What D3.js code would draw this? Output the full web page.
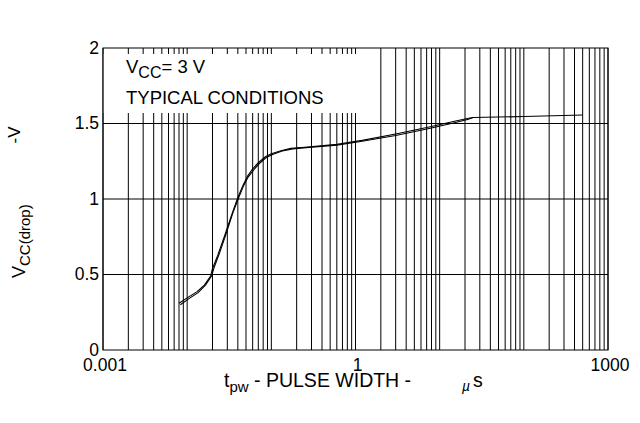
<!DOCTYPE html>
<html>
<head>
<meta charset="utf-8">
<script src="https://cdn.jsdelivr.net/npm/d3@7/dist/d3.min.js"></script>
<style>
  body { margin: 0; background: #fff; }
  svg { display: block; }
  text { font-family: "Liberation Sans", Arial, Helvetica, sans-serif; fill: #000; }
</style>
</head>
<body>
<svg id="chart" width="640" height="423"></svg>
<script>
// Axis ticks
const xTickValues = [0.001, 1, 1000];
const xTickLabels = ["0.001", "1", "1000"];
const yTickValues = [0, 0.5, 1, 1.5, 2];
const yTickLabels = ["0", "0.5", "1", "1.5", "2"];

// VCC(drop) vs pulse width, two traces of the same measurement
const pulseWidthA = [0.0080, 0.0100, 0.0130, 0.0160, 0.0190, 0.0200, 0.0230, 0.0280, 0.0340, 0.0400,
                     0.0460, 0.0520, 0.0600, 0.0700, 0.0850, 0.1000, 0.1300, 0.1700, 0.2500, 0.6000,
                     1.2000, 3.0000, 8.0000, 15.000, 22.000, 25.000, 100.00, 500.00];
const dropA       = [0.310, 0.345, 0.385, 0.430, 0.490, 0.540, 0.625, 0.760, 0.900, 1.010,
                     1.090, 1.150, 1.200, 1.240, 1.280, 1.300, 1.320, 1.335, 1.343, 1.362,
                     1.388, 1.430, 1.480, 1.515, 1.535, 1.540, 1.546, 1.556];
const pulseWidthB = [0.0083, 0.0105, 0.0135, 0.0165, 0.0195, 0.0210, 0.0240, 0.0290, 0.0350, 0.0410,
                     0.0470, 0.0530, 0.0620, 0.0720, 0.0870, 0.1050, 0.1350, 0.1800, 0.2600, 0.6000,
                     1.2000, 3.0000, 8.0000, 15.000, 22.000, 25.000];
const dropB       = [0.300, 0.340, 0.380, 0.430, 0.490, 0.550, 0.635, 0.770, 0.910, 1.010,
                     1.090, 1.145, 1.195, 1.235, 1.275, 1.297, 1.318, 1.332, 1.340, 1.357,
                     1.382, 1.420, 1.470, 1.505, 1.528, 1.540];

const svg = d3.select("#chart");
const plotLeft = 103, plotRight = 608, plotTop = 48, plotBottom = 350;

const x = d3.scaleLog().domain([0.001, 1000]).range([plotLeft, plotRight]);
const y = d3.scaleLinear().domain([0, 2]).range([plotBottom, plotTop]);

// Log grid: 1..9 within each decade
const gridX = [];
for (let e = -3; e < 3; e++) {
  for (let m = 1; m <= 9; m++) gridX.push(m * Math.pow(10, e));
}
gridX.push(1000);

const grid = svg.append("g").attr("stroke", "#000").attr("stroke-width", 1);
grid.selectAll("line.v").data(gridX).join("line")
  .attr("class", "v")
  .attr("x1", d => x(d)).attr("x2", d => x(d))
  .attr("y1", plotTop).attr("y2", plotBottom);
grid.selectAll("line.h").data(yTickValues.slice(1, -1)).join("line")
  .attr("class", "h")
  .attr("x1", plotLeft).attr("x2", plotRight)
  .attr("y1", d => y(d)).attr("y2", d => y(d));

// Condition note box
svg.append("rect")
  .attr("x", plotLeft + 0.5).attr("y", 54)
  .attr("width", 362 - plotLeft).attr("height", 59)
  .attr("fill", "#fff");

const note1 = svg.append("text").attr("x", 126).attr("y", 73).attr("font-size", 18.5);
note1.append("tspan").text("V");
note1.append("tspan").attr("font-size", 16).attr("dy", 5).text("CC");
note1.append("tspan").attr("dy", -5).text("= 3 V");

svg.append("text").attr("x", 126).attr("y", 104).attr("font-size", 18.5)
  .text("TYPICAL CONDITIONS");

// Plot border
svg.append("rect")
  .attr("x", plotLeft).attr("y", plotTop)
  .attr("width", plotRight - plotLeft).attr("height", plotBottom - plotTop)
  .attr("fill", "none").attr("stroke", "#000").attr("stroke-width", 1);

// Traces
const line = d3.line().x(d => x(d[0])).y(d => y(d[1]));
const traceA = d3.zip(pulseWidthA, dropA);
const traceB = d3.zip(pulseWidthB, dropB);
svg.selectAll("path.trace").data([traceA, traceB]).join("path")
  .attr("class", "trace")
  .attr("d", line)
  .attr("fill", "none")
  .attr("stroke", "#000")
  .attr("stroke-width", 1.1);

// Tick labels
svg.selectAll("text.xt").data(xTickValues).join("text")
  .attr("class", "xt")
  .attr("x", d => x(d) + 2).attr("y", 371)
  .attr("font-size", 17.5).attr("text-anchor", "middle")
  .text((d, i) => xTickLabels[i]);

svg.selectAll("text.yt").data(yTickValues).join("text")
  .attr("class", "yt")
  .attr("x", plotLeft - 4).attr("y", d => y(d))
  .attr("dy", "0.33em")
  .attr("font-size", 17.5).attr("text-anchor", "end")
  .text((d, i) => yTickLabels[i]);

// Axis titles
const yTitle = svg.append("text")
  .attr("transform", "translate(25,278) rotate(-90)")
  .attr("font-size", 18);
yTitle.append("tspan").text("V");
yTitle.append("tspan").attr("font-size", 15).attr("dy", 5).text("CC(drop)");

svg.append("text")
  .attr("transform", "translate(20,135) rotate(-90)")
  .attr("font-size", 17).attr("text-anchor", "middle")
  .text("-V");

const xTitle = svg.append("text").attr("x", 224).attr("y", 387).attr("font-size", 19.5);
xTitle.append("tspan").text("t");
xTitle.append("tspan").attr("font-size", 15).attr("dy", 5).text("pw");
xTitle.append("tspan").attr("dy", -5).text(" - PULSE WIDTH -");

svg.append("text").attr("x", 462).attr("y", 391).attr("font-size", 14)
  .attr("font-style", "italic").text("µ");
svg.append("text").attr("x", 473).attr("y", 387).attr("font-size", 19.5).text("s");
</script>
</body>
</html>
